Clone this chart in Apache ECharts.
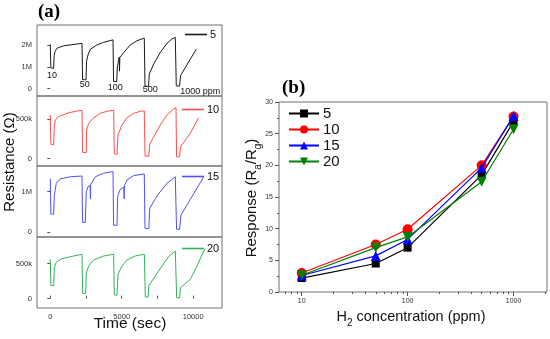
<!DOCTYPE html>
<html><head><meta charset="utf-8">
<script src="https://cdn.jsdelivr.net/npm/echarts@6.0.0/dist/echarts.min.js"></script>
<style>html,body{margin:0;padding:0;background:#fff}#c{width:550px;height:339px}</style>
</head><body><div id="c"></div>
<script>
// ---------- Panel (a): resistance vs time (time in s, resistance in kOhm) ----------
const t5  = [0,40,230,270,330,470,930,1500,2220,2260,2500,2540,2640,2800,3270,3735,4390,4430,4650,4690,4780,4830,4845,4870,5135,5600,6070,6580,6630,6880,6930,7240,7700,8170,8520,8750,8820,9050,9120,10220];
const r5  = [2030,950,930,1500,1700,1850,1960,2010,2070,420,400,1250,1550,1800,2000,2120,2230,330,320,950,1300,1450,800,1420,1650,2000,2190,2310,120,110,670,1130,1660,2070,2280,2340,130,120,600,1810];
const t10 = [0,40,235,280,350,585,1170,1870,2220,2260,2510,2540,2690,3040,3500,3970,4440,4480,4670,4740,5020,5370,5840,6300,6580,6630,6890,6960,7240,7700,8170,8630,8800,8840,9050,9120,9800,10380];
const r10 = [555,183,175,406,491,533,576,605,614,81,75,364,449,520,576,601,614,60,55,301,428,520,576,601,605,34,30,183,279,428,555,631,647,25,22,152,322,520];
const t15 = [0,40,235,280,420,700,1400,2220,2260,2450,2520,2640,2790,2810,2830,3150,3735,4390,4430,4670,4720,4860,5150,5170,5190,5370,5840,6580,6630,6900,6960,7520,8170,8750,8840,9050,9150,10740];
const r15 = [1320,450,440,900,1210,1320,1370,1390,240,235,1000,1120,1160,820,1180,1370,1460,1500,170,165,880,1040,1120,820,1150,1290,1400,1440,90,85,590,920,1210,1370,70,65,420,1370];
const t20 = [0,40,236,282,422,819,1402,2219,2266,2476,2522,2686,3036,3736,4436,4482,4669,4739,5019,5369,5952,6582,6652,6839,6909,7352,7819,8286,8752,8846,9056,9102,9802,10269,10736,10852];
const r20 = [563,191,185,443,524,571,600,634,77,72,371,467,553,610,634,53,50,348,467,553,610,634,24,20,191,324,467,600,681,14,12,157,277,467,681,714];
const doseLabels = ['10','50','100','500','1000 ppm'];

const timeTicks = [0,2500,5000,7500,10000];
const timeLabels = [0,5000,10000];
const yLabelsA = [[0,1000,2000],[0,500],[0,1000],[0,500]];
const yRangeA = [[-333,2909],[-93,795],[-124,1638],[-133,881]];
const panelNamesA = ['5','10','15','20'];

// ---------- Panel (b): response vs H2 concentration ----------
const conc = [10,50,100,500,1000];
const resp5  = [2.2,4.5,7.0,18.5,26.9];
const resp10 = [3.0,7.5,9.9,20.0,27.7];
const resp15 = [2.6,5.7,8.3,19.6,27.8];
const resp20 = [2.65,7.0,8.7,17.4,25.7];
const respTicks = [0,5,10,15,20,25,30];
const concMinorTicks = [7,8,9,20,30,40,50,60,70,80,90,200,300,400,500,600,700,800,900,2000];

const zip = (a,b) => a.map((v,i)=>[v,b[i]]);
const FONT = 'Liberation Sans, Arial, sans-serif';
const colorsA = ['#1a1a1a','#ff4d4d','#4f4fff','#33b35a'];
const colorsB = ['#000000','#ff0000','#0000ff','#008000'];
const tsA = [zip(t5,r5),zip(t10,r10),zip(t15,r15),zip(t20,r20)];
const gridTops = [25,96,166,237];
const gridHeights = [71,70,71,71];
const legTops = [28,103,170,242];
const legLefts = [185,182,182,182];

const fmtK = v => v===0 ? '0' : (v>=1000 ? (v/1000)+'M' : v+'k');

const grids=[], xAxes=[], yAxes=[], series=[], legends=[];
for(let i=0;i<4;i++){
  grids.push({left:37, top:gridTops[i], width:185, height:gridHeights[i], show:true, borderColor:'#707070', borderWidth:1});
  const bottom = i===3;
  xAxes.push({type:'value', gridIndex:i, min:-930, max:12020,
    axisLine:{show:false}, splitLine:{show:false},
    axisTick:{show:bottom, inside:true, length:3, lineStyle:{color:'#555'}, customValues:timeTicks},
    axisLabel:{show:bottom, fontSize:7.5, color:'#333', fontFamily:FONT, margin:5, customValues:timeLabels, formatter:v=>String(v)}});
  yAxes.push({type:'value', gridIndex:i, min:yRangeA[i][0], max:yRangeA[i][1],
    axisLine:{show:false}, splitLine:{show:false},
    axisTick:{show:true, inside:false, length:3, lineStyle:{color:'#555'}, customValues:yLabelsA[i]},
    axisLabel:{fontSize:7.5, color:'#333', fontFamily:FONT, margin:5, customValues:yLabelsA[i], formatter:fmtK}});
  series.push({type:'line', name:'a'+panelNamesA[i], xAxisIndex:i, yAxisIndex:i, data:tsA[i],
    symbol:'none', showSymbol:false, lineStyle:{width:1, color:colorsA[i]}, itemStyle:{color:colorsA[i]}, z:3});
  legends.push({data:['a'+panelNamesA[i]], left:legLefts[i], top:legTops[i], padding:0,
    icon:'rect', itemWidth:22, itemHeight:1.6, itemGap:0, selectedMode:false,
    formatter:n=>n.slice(1), textStyle:{fontSize:11, lineHeight:13, color:'#111', fontFamily:FONT, padding:[0,0,0,-2]}});
}

// panel (b)
grids.push({left:279, top:102, width:268, height:190, show:true, borderColor:'#707070', borderWidth:1});
const LMIN = 6.1, LMAX = 2070;
xAxes.push({type:'log', gridIndex:4, logBase:10, min:LMIN, max:LMAX,
  axisLine:{show:false}, splitLine:{show:false},
  axisTick:{inside:false, length:4, lineStyle:{color:'#555'}},
  axisLabel:{fontSize:7, color:'#333', fontFamily:FONT, margin:6, showMinLabel:false, showMaxLabel:false,
    formatter:v=>{const l=Math.log10(v); return Math.abs(l-Math.round(l))<1e-6 ? String(Math.round(v)) : '';}}});
// helper axis that only carries the minor ticks of the log axis
xAxes.push({type:'value', gridIndex:4, position:'bottom', offset:0, min:Math.log10(LMIN), max:Math.log10(LMAX),
  axisLine:{show:false}, splitLine:{show:false}, axisLabel:{show:false},
  axisTick:{inside:false, length:2, lineStyle:{color:'#555'}, customValues:concMinorTicks.map(v=>Math.log10(v))}});
yAxes.push({type:'value', gridIndex:4, min:0, max:30, interval:5,
  axisLine:{show:false}, splitLine:{show:false},
  axisTick:{inside:false, length:4, lineStyle:{color:'#555'}},
  minorTick:{show:true, splitNumber:2, length:2, lineStyle:{color:'#555'}},
  axisLabel:{fontSize:7, color:'#333', fontFamily:FONT, margin:6, customValues:respTicks}});
const respAll=[resp5,resp10,resp15,resp20];
const symB=['rect','circle','triangle','triangle'];
const symSize=[8,10,10,10];
const symRot=[0,0,0,180];
for(let i=0;i<4;i++){
  series.push({type:'line', name:panelNamesA[i], xAxisIndex:4, yAxisIndex:4, data:zip(conc,respAll[i]),
    symbol:symB[i], symbolSize:symSize[i], symbolRotate:symRot[i], showSymbol:true,
    lineStyle:{width:1.2, color:colorsB[i]}, itemStyle:{color:colorsB[i]}, z:3+i});
}
legends.push({data:panelNamesA, left:288, top:106, orient:'vertical', padding:0, itemWidth:30, itemHeight:10, itemGap:1,
  selectedMode:false, textStyle:{fontSize:15, lineHeight:15, color:'#111', fontFamily:FONT, padding:[0,0,0,-1]}});

const chart = echarts.init(document.getElementById('c'), null, {renderer:'canvas'});
const annX=[52,84.7,115.3,150.3,200.3], annY=[75.7,85,87.3,90,91.7];
const graphics = [
  {type:'text', left:38, top:3, style:{text:'(a)', font:'bold 19px "Liberation Serif", serif', fill:'#000'}},
  {type:'text', left:282, top:79, style:{text:'(b)', font:'bold 19px "Liberation Serif", serif', fill:'#000'}},
  {type:'text', x:10, y:162, rotation:Math.PI/2, style:{text:'Resistance (Ω)', font:'15px '+FONT, fill:'#111', align:'center', verticalAlign:'middle'}},
  {type:'text', x:130, y:324, style:{text:'Time (sec)', font:'15.5px '+FONT, fill:'#111', align:'center', verticalAlign:'middle'}},
  {type:'text', x:252, y:198, rotation:Math.PI/2, style:{
    text:'Response (R{s|a}/R{s|g})', font:'15px '+FONT, fill:'#111', align:'center', verticalAlign:'middle',
    rich:{s:{fontSize:10, fontFamily:FONT, fill:'#111', verticalAlign:'bottom', lineHeight:22}}}},
  {type:'text', x:411, y:317, style:{
    text:'H{s|2} concentration (ppm)', font:'14.5px '+FONT, fill:'#111', align:'center', verticalAlign:'middle',
    rich:{s:{fontSize:10, fontFamily:FONT, fill:'#111', verticalAlign:'bottom', lineHeight:22}}}}
];
doseLabels.forEach((s,i)=>graphics.push({type:'text', x:annX[i], y:annY[i], style:{text:s, font:'9px '+FONT, fill:'#111', align:'center', verticalAlign:'middle'}}));

chart.setOption({
  animation:false,
  backgroundColor:'#fff',
  grid:grids, xAxis:xAxes, yAxis:yAxes, series:series, legend:legends,
  graphic:graphics
});
</script></body></html>
